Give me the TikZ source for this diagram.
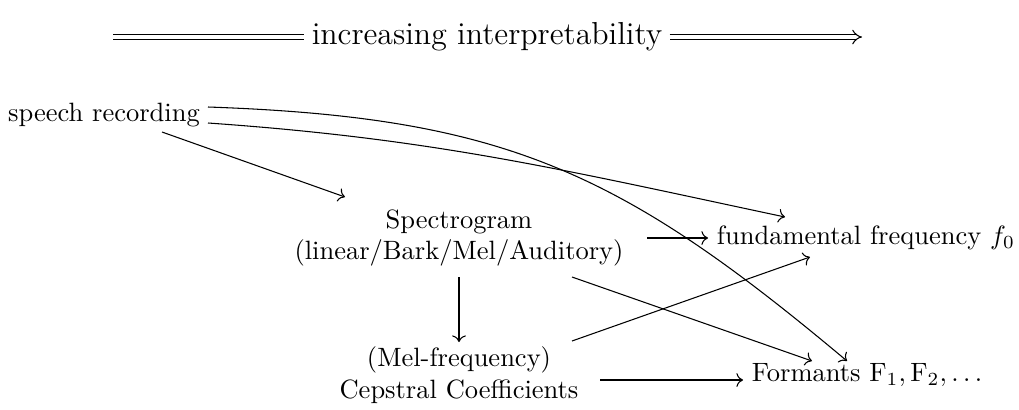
\documentclass[tikz,border=0pt]{standalone}
\usetikzlibrary{calc,arrows.meta}
\begin{document}
\begin{tikzpicture}[x=0.3774pt,y=0.3774pt,
  lbl/.style={inner sep=0pt, align=center},
  conn/.style={->, line width=0.4pt},
  topline/.style={double equal sign distance, line width=0.4pt}]
\useasboundingbox (0,0) rectangle (1019,-409);
\node[lbl, inner sep=2.6pt, font=\large] (title) at (487,-37) {increasing interpretability};
\coordinate (tl) at (113,-37);
\coordinate (tr) at (862,-37);
\draw[topline] (tl) -- (title.west);
\draw[topline,-Implies] (title.east) -- (tr);

\node[lbl] (sr) at (104,-115) {speech recording};
\node[lbl] (spec) at (459,-238) {Spectrogram\\(linear/Bark/Mel/Auditory)};
\node[lbl] (cep) at (459,-375) {(Mel-frequency)\\Cepstral Coefficients};
\node[lbl] (f0) at (866,-238) {fundamental frequency $f_0$};
\node[lbl] (form) at (867,-375) {Formants $\mathrm{F}_1, \mathrm{F}_2, \dots$};

\draw[conn] ($(sr.center)+(58,-17)$) -- ($(spec.center)+(-114,41)$);
\draw[conn] ($(sr.center)+(104,-8)$) to[out=-4,in=168] ($(f0.center)+(-81,21)$);
\draw[conn] ($(sr.center)+(104,8)$) to[out=-2,in=140,looseness=1.1] ($(form.center)+(-20,14)$);
\draw[conn] ($(spec.center)+(188,0)$) -- ($(f0.center)+(-158,0)$);
\draw[conn] ($(spec.center)+(113,-39)$) -- ($(form.center)+(-55,14)$);
\draw[conn] ($(spec.center)+(0,-39)$) -- ($(cep.center)+(0,33)$);
\draw[conn] ($(cep.center)+(113,34)$) -- ($(f0.center)+(-56,-19)$);
\draw[conn] ($(cep.center)+(141,-5)$) -- ($(form.center)+(-124,-5)$);
\end{tikzpicture}
\end{document}
